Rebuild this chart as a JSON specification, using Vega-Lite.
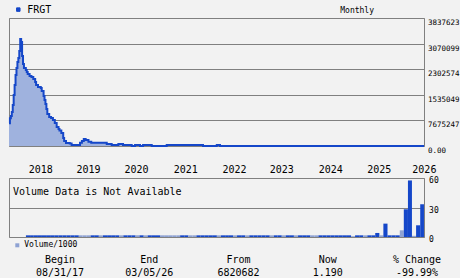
{
  "$schema": "https://vega.github.io/schema/vega-lite/v6.json",
  "background": "#f2f2f2",
  "padding": {"left": 4, "top": 4, "right": 0, "bottom": 0},
  "bounds": "flush",
  "spacing": 14,
  "resolve": {
    "scale": {"x": "independent", "y": "independent", "color": "independent", "fill": "independent"},
    "legend": {"color": "independent", "fill": "independent"}
  },
  "config": {
    "view": {"stroke": "#808080", "strokeWidth": 1},
    "axis": {"domain": false, "ticks": false, "tickSize": 0, "tickCount": 20, "labelFont": "DejaVu Sans Mono", "labelColor": "#000000", "gridColor": "#808080", "gridOpacity": 1, "gridWidth": 1},
    "legend": {"labelFont": "DejaVu Sans Mono", "labelColor": "#000000", "padding": 0},
    "title": {"font": "DejaVu Sans Mono", "color": "#000000", "fontWeight": "normal"}
  },
  "vconcat": [
    {
      "width": 415,
      "height": 128,
      "title": {"text": "Monthly", "anchor": "end", "frame": "group", "dx": -50, "dy": 10, "fontSize": 8, "offset": 0},
      "data": {"values": [
        {"date": "2017-08-31", "price": 6820682},
        {"date": "2017-09-07", "price": 8305000},
        {"date": "2017-09-14", "price": 8994000},
        {"date": "2017-09-21", "price": 10194000},
        {"date": "2017-09-28", "price": 12292000},
        {"date": "2017-10-05", "price": 15291000},
        {"date": "2017-10-12", "price": 18289000},
        {"date": "2017-10-19", "price": 21287000},
        {"date": "2017-10-26", "price": 23385000},
        {"date": "2017-11-02", "price": 25184000},
        {"date": "2017-11-09", "price": 26384000},
        {"date": "2017-11-16", "price": 28482000},
        {"date": "2017-11-23", "price": 32080000},
        {"date": "2017-11-30", "price": 31181000},
        {"date": "2017-12-07", "price": 26983000},
        {"date": "2017-12-14", "price": 24585000},
        {"date": "2017-12-21", "price": 23385000},
        {"date": "2018-01-04", "price": 22786000},
        {"date": "2018-01-11", "price": 22186000},
        {"date": "2018-01-18", "price": 21587000},
        {"date": "2018-02-01", "price": 20987000},
        {"date": "2018-02-15", "price": 20687000},
        {"date": "2018-03-01", "price": 20088000},
        {"date": "2018-03-15", "price": 19188000},
        {"date": "2018-03-22", "price": 18289000},
        {"date": "2018-04-05", "price": 17689000},
        {"date": "2018-04-26", "price": 17389000},
        {"date": "2018-05-03", "price": 16490000},
        {"date": "2018-05-17", "price": 14991000},
        {"date": "2018-05-24", "price": 13791000},
        {"date": "2018-05-31", "price": 12592000},
        {"date": "2018-06-07", "price": 11093000},
        {"date": "2018-06-14", "price": 9594000},
        {"date": "2018-06-28", "price": 8695000},
        {"date": "2018-07-12", "price": 8395000},
        {"date": "2018-07-26", "price": 7795000},
        {"date": "2018-08-09", "price": 6896000},
        {"date": "2018-08-23", "price": 5696000},
        {"date": "2018-09-06", "price": 5097000},
        {"date": "2018-09-13", "price": 4647000},
        {"date": "2018-09-27", "price": 3898000},
        {"date": "2018-10-11", "price": 2399000},
        {"date": "2018-10-18", "price": 1499000},
        {"date": "2018-11-01", "price": 899000},
        {"date": "2018-11-29", "price": 750000},
        {"date": "2018-12-13", "price": 300000},
        {"date": "2019-02-14", "price": 989000},
        {"date": "2019-02-28", "price": 1499000},
        {"date": "2019-03-14", "price": 2099000},
        {"date": "2019-03-28", "price": 1799000},
        {"date": "2019-04-18", "price": 1289000},
        {"date": "2019-05-09", "price": 989000},
        {"date": "2019-09-02", "price": 600000},
        {"date": "2019-10-09", "price": 300000},
        {"date": "2019-11-28", "price": 600000},
        {"date": "2020-01-02", "price": 300000},
        {"date": "2020-03-07", "price": 30000},
        {"date": "2020-04-01", "price": 300000},
        {"date": "2020-05-08", "price": 30000},
        {"date": "2020-05-31", "price": 300000},
        {"date": "2020-08-04", "price": 30000},
        {"date": "2020-11-24", "price": 300000},
        {"date": "2021-08-23", "price": 30000},
        {"date": "2021-12-04", "price": 300000},
        {"date": "2021-12-28", "price": 30000},
        {"date": "2022-07-01", "price": 25000},
        {"date": "2023-07-01", "price": 15000},
        {"date": "2024-07-01", "price": 5000},
        {"date": "2025-07-01", "price": 100},
        {"date": "2026-03-05", "price": 1.19}
      ]},
      "layer": [
        {
          "mark": {"type": "area", "interpolate": "step-after", "color": "#9fb2de"},
          "encoding": {
            "x": {"field": "date", "type": "temporal", "scale": {"domain": [{"year": 2017, "month": 8, "date": 31, "utc": true}, {"year": 2026, "month": 3, "date": 5, "utc": true}]}, "axis": null},
            "y": {"field": "price", "type": "quantitative", "scale": {"domain": [0, 38376237], "nice": false},
              "axis": {"orient": "right", "title": null, "grid": true, "tickCount": 20, "values": [0, 7675247.4, 15350494.8, 23025742.2, 30700989.6, 38376236.9],
                "labelExpr": "datum.value == 0 ? '0.00' : substring(format(datum.value, 'd'), 0, 7)",
                "labelFontSize": 7.5, "labelPadding": 3.5, "labelOffset": 4.5, "labelBaseline": "middle", "labelFlush": false, "labelOverlap": false}}
          }
        },
        {
          "mark": {"type": "line", "interpolate": "step-after", "strokeWidth": 2},
          "encoding": {
            "x": {"field": "date", "type": "temporal"},
            "y": {"field": "price", "type": "quantitative"},
            "color": {"datum": "FRGT", "scale": {"range": ["#1547c9"]},
              "legend": {"orient": "none", "legendX": 4.3, "legendY": -13.4, "title": null, "symbolType": "square", "symbolSize": 12, "symbolFillColor": "#1547c9", "symbolStrokeColor": "#1547c9", "symbolStrokeWidth": 1, "labelFontSize": 10, "labelOffset": 4}}
          }
        }
      ]
    },
    {
      "width": 415,
      "height": 4,
      "view": {"stroke": null},
      "data": {"values": []},
      "mark": "point"
    },
    {
      "width": 415,
      "height": 59,
      "data": {"values": [
        {"month": "2018-01-01", "volume": 1.7, "dir": "up"},
        {"month": "2018-02-01", "volume": 1.7, "dir": "up"},
        {"month": "2018-03-01", "volume": 1.7, "dir": "up"},
        {"month": "2018-04-01", "volume": 1.7, "dir": "up"},
        {"month": "2018-05-01", "volume": 1.7, "dir": "up"},
        {"month": "2018-06-01", "volume": 1.7, "dir": "up"},
        {"month": "2018-07-01", "volume": 1.7, "dir": "up"},
        {"month": "2018-08-01", "volume": 1.7, "dir": "up"},
        {"month": "2018-09-01", "volume": 1.7, "dir": "up"},
        {"month": "2018-10-01", "volume": 1.7, "dir": "up"},
        {"month": "2018-11-01", "volume": 1.7, "dir": "up"},
        {"month": "2018-12-01", "volume": 1.7, "dir": "up"},
        {"month": "2019-01-01", "volume": 1.7, "dir": "up"},
        {"month": "2019-02-01", "volume": 1.7, "dir": "down"},
        {"month": "2019-03-01", "volume": 1.7, "dir": "down"},
        {"month": "2019-04-01", "volume": 1.7, "dir": "down"},
        {"month": "2019-05-01", "volume": 1.7, "dir": "up"},
        {"month": "2019-06-01", "volume": 1.7, "dir": "up"},
        {"month": "2019-07-01", "volume": 1.7, "dir": "down"},
        {"month": "2019-08-01", "volume": 1.7, "dir": "up"},
        {"month": "2019-09-01", "volume": 1.7, "dir": "up"},
        {"month": "2019-10-01", "volume": 1.7, "dir": "up"},
        {"month": "2019-11-01", "volume": 1.7, "dir": "up"},
        {"month": "2019-12-01", "volume": 1.7, "dir": "down"},
        {"month": "2020-01-01", "volume": 1.7, "dir": "up"},
        {"month": "2020-02-01", "volume": 1.7, "dir": "up"},
        {"month": "2020-03-01", "volume": 1.7, "dir": "up"},
        {"month": "2020-04-01", "volume": 1.7, "dir": "down"},
        {"month": "2020-05-01", "volume": 1.7, "dir": "up"},
        {"month": "2020-06-01", "volume": 1.7, "dir": "down"},
        {"month": "2020-07-01", "volume": 1.7, "dir": "up"},
        {"month": "2020-08-01", "volume": 1.7, "dir": "up"},
        {"month": "2020-09-01", "volume": 1.7, "dir": "up"},
        {"month": "2020-10-01", "volume": 1.7, "dir": "down"},
        {"month": "2020-11-01", "volume": 1.7, "dir": "down"},
        {"month": "2020-12-01", "volume": 1.7, "dir": "down"},
        {"month": "2021-01-01", "volume": 1.7, "dir": "down"},
        {"month": "2021-02-01", "volume": 1.7, "dir": "down"},
        {"month": "2021-03-01", "volume": 1.7, "dir": "up"},
        {"month": "2021-04-01", "volume": 1.7, "dir": "up"},
        {"month": "2021-05-01", "volume": 1.7, "dir": "down"},
        {"month": "2021-06-01", "volume": 1.7, "dir": "down"},
        {"month": "2021-07-01", "volume": 1.7, "dir": "up"},
        {"month": "2021-08-01", "volume": 1.7, "dir": "up"},
        {"month": "2021-09-01", "volume": 1.7, "dir": "up"},
        {"month": "2021-10-01", "volume": 1.7, "dir": "up"},
        {"month": "2021-11-01", "volume": 1.7, "dir": "up"},
        {"month": "2021-12-01", "volume": 1.7, "dir": "down"},
        {"month": "2022-01-01", "volume": 1.7, "dir": "up"},
        {"month": "2022-02-01", "volume": 1.7, "dir": "up"},
        {"month": "2022-03-01", "volume": 1.7, "dir": "up"},
        {"month": "2022-04-01", "volume": 1.7, "dir": "down"},
        {"month": "2022-05-01", "volume": 1.7, "dir": "up"},
        {"month": "2022-06-01", "volume": 1.7, "dir": "up"},
        {"month": "2022-07-01", "volume": 1.7, "dir": "down"},
        {"month": "2022-08-01", "volume": 1.7, "dir": "up"},
        {"month": "2022-09-01", "volume": 1.7, "dir": "up"},
        {"month": "2022-10-01", "volume": 1.7, "dir": "up"},
        {"month": "2022-11-01", "volume": 1.7, "dir": "up"},
        {"month": "2022-12-01", "volume": 1.7, "dir": "up"},
        {"month": "2023-01-01", "volume": 1.7, "dir": "down"},
        {"month": "2023-02-01", "volume": 1.7, "dir": "up"},
        {"month": "2023-03-01", "volume": 1.7, "dir": "up"},
        {"month": "2023-04-01", "volume": 1.7, "dir": "down"},
        {"month": "2023-05-01", "volume": 1.7, "dir": "up"},
        {"month": "2023-06-01", "volume": 1.7, "dir": "up"},
        {"month": "2023-07-01", "volume": 1.7, "dir": "down"},
        {"month": "2023-08-01", "volume": 1.7, "dir": "up"},
        {"month": "2023-09-01", "volume": 1.7, "dir": "up"},
        {"month": "2023-10-01", "volume": 1.7, "dir": "up"},
        {"month": "2023-11-01", "volume": 1.7, "dir": "down"},
        {"month": "2023-12-01", "volume": 1.7, "dir": "down"},
        {"month": "2024-01-01", "volume": 1.7, "dir": "up"},
        {"month": "2024-02-01", "volume": 1.7, "dir": "up"},
        {"month": "2024-03-01", "volume": 1.7, "dir": "up"},
        {"month": "2024-04-01", "volume": 1.7, "dir": "up"},
        {"month": "2024-05-01", "volume": 1.7, "dir": "up"},
        {"month": "2024-06-01", "volume": 1.7, "dir": "up"},
        {"month": "2024-07-01", "volume": 1.7, "dir": "up"},
        {"month": "2024-08-01", "volume": 1.7, "dir": "up"},
        {"month": "2024-09-01", "volume": 0.8, "dir": "down"},
        {"month": "2024-10-01", "volume": 1.7, "dir": "up"},
        {"month": "2024-11-01", "volume": 1.7, "dir": "up"},
        {"month": "2024-12-01", "volume": 1.7, "dir": "down"},
        {"month": "2025-01-01", "volume": 1.7, "dir": "up"},
        {"month": "2025-02-01", "volume": 1.7, "dir": "up"},
        {"month": "2025-03-01", "volume": 4.1, "dir": "up"},
        {"month": "2025-04-01", "volume": 1.7, "dir": "down"},
        {"month": "2025-05-01", "volume": 13.6, "dir": "up"},
        {"month": "2025-06-01", "volume": 1.7, "dir": "up"},
        {"month": "2025-07-01", "volume": 1.7, "dir": "up"},
        {"month": "2025-08-01", "volume": 1.7, "dir": "up"},
        {"month": "2025-09-01", "volume": 6.8, "dir": "down"},
        {"month": "2025-10-01", "volume": 28.2, "dir": "up"},
        {"month": "2025-11-01", "volume": 57.5, "dir": "up"},
        {"month": "2025-12-01", "volume": 1.2, "dir": "down"},
        {"month": "2026-01-01", "volume": 11.9, "dir": "up"},
        {"month": "2026-02-01", "volume": 33.3, "dir": "up"}
      ]},
      "layer": [
        {
          "mark": {"type": "bar", "binSpacing": 0},
          "encoding": {
            "x": {"field": "month", "timeUnit": "utcyearmonth", "type": "temporal",
              "scale": {"domain": [{"year": 2017, "month": 8, "date": 31, "utc": true}, {"year": 2026, "month": 3, "date": 5, "utc": true}]},
              "axis": {"orient": "top", "title": null, "grid": false, "tickCount": 20,
                "values": [
                  {"year": 2018, "month": 4, "date": 22, "utc": true},
                  {"year": 2019, "month": 4, "date": 15, "utc": true},
                  {"year": 2020, "month": 4, "date": 8, "utc": true},
                  {"year": 2021, "month": 4, "date": 12, "utc": true},
                  {"year": 2022, "month": 4, "date": 12, "utc": true},
                  {"year": 2023, "month": 4, "date": 1, "utc": true},
                  {"year": 2024, "month": 4, "date": 2, "utc": true},
                  {"year": 2025, "month": 3, "date": 31, "utc": true},
                  {"year": 2026, "month": 3, "date": 4, "utc": true}
                ],
                "labelExpr": "utcFormat(datum.value, '%Y')",
                "labelFontSize": 10, "labelPadding": 3.6, "labelFlush": false, "labelOverlap": false}},
            "y": {"field": "volume", "type": "quantitative", "scale": {"domain": [0, 60], "nice": false},
              "axis": {"orient": "right", "title": null, "grid": true, "tickCount": 20, "values": [0, 30, 60], "labelFontSize": 8, "labelPadding": 4.6, "labelOffset": 2.5, "labelBaseline": "middle", "labelFlush": false, "labelOverlap": false}},
            "fill": {"field": "dir", "type": "nominal", "scale": {"domain": ["down", "up"], "range": ["#8ea2d3", "#1547c9"]},
              "legend": {"values": ["down"], "labelExpr": "'Volume/1000'", "orient": "none", "legendX": 4.3, "legendY": 63.3, "title": null, "symbolType": "square", "symbolSize": 16, "symbolStrokeWidth": 0, "labelFontSize": 8, "labelOffset": 3}}
          }
        },
        {
          "data": {"values": [{"note": "Volume Data is Not Available"}]},
          "mark": {"type": "text", "align": "left", "baseline": "middle", "dx": 4, "dy": 14, "font": "DejaVu Sans Mono", "fontSize": 10, "color": "#000000"},
          "encoding": {
            "x": {"datum": {"year": 2017, "month": 8, "date": 31, "utc": true}, "type": "temporal"},
            "y": {"datum": 60, "type": "quantitative"},
            "text": {"field": "note"}
          }
        }
      ]
    },
    {
      "width": 415,
      "height": 26,
      "view": {"stroke": null},
      "data": {"values": [
        {"field": "Begin", "row": "label", "text": "Begin"},
        {"field": "Begin", "row": "value", "text": "08/31/17"},
        {"field": "End", "row": "label", "text": "End"},
        {"field": "End", "row": "value", "text": "03/05/26"},
        {"field": "From", "row": "label", "text": "From"},
        {"field": "From", "row": "value", "text": "6820682"},
        {"field": "Now", "row": "label", "text": "Now"},
        {"field": "Now", "row": "value", "text": "1.190"},
        {"field": "% Change", "row": "label", "text": "% Change"},
        {"field": "% Change", "row": "value", "text": "-99.99%"}
      ]},
      "mark": {"type": "text", "font": "DejaVu Sans Mono", "fontSize": 10, "color": "#000000", "baseline": "middle", "dy": 2},
      "encoding": {
        "x": {"field": "field", "type": "nominal", "sort": ["Begin", "End", "From", "Now", "% Change"], "scale": {"type": "point", "padding": 0.325, "align": 0.88}, "axis": null},
        "y": {"field": "row", "type": "nominal", "sort": ["label", "value"], "scale": {"type": "point", "padding": 0.5}, "axis": null},
        "text": {"field": "text"}
      }
    }
  ]
}
